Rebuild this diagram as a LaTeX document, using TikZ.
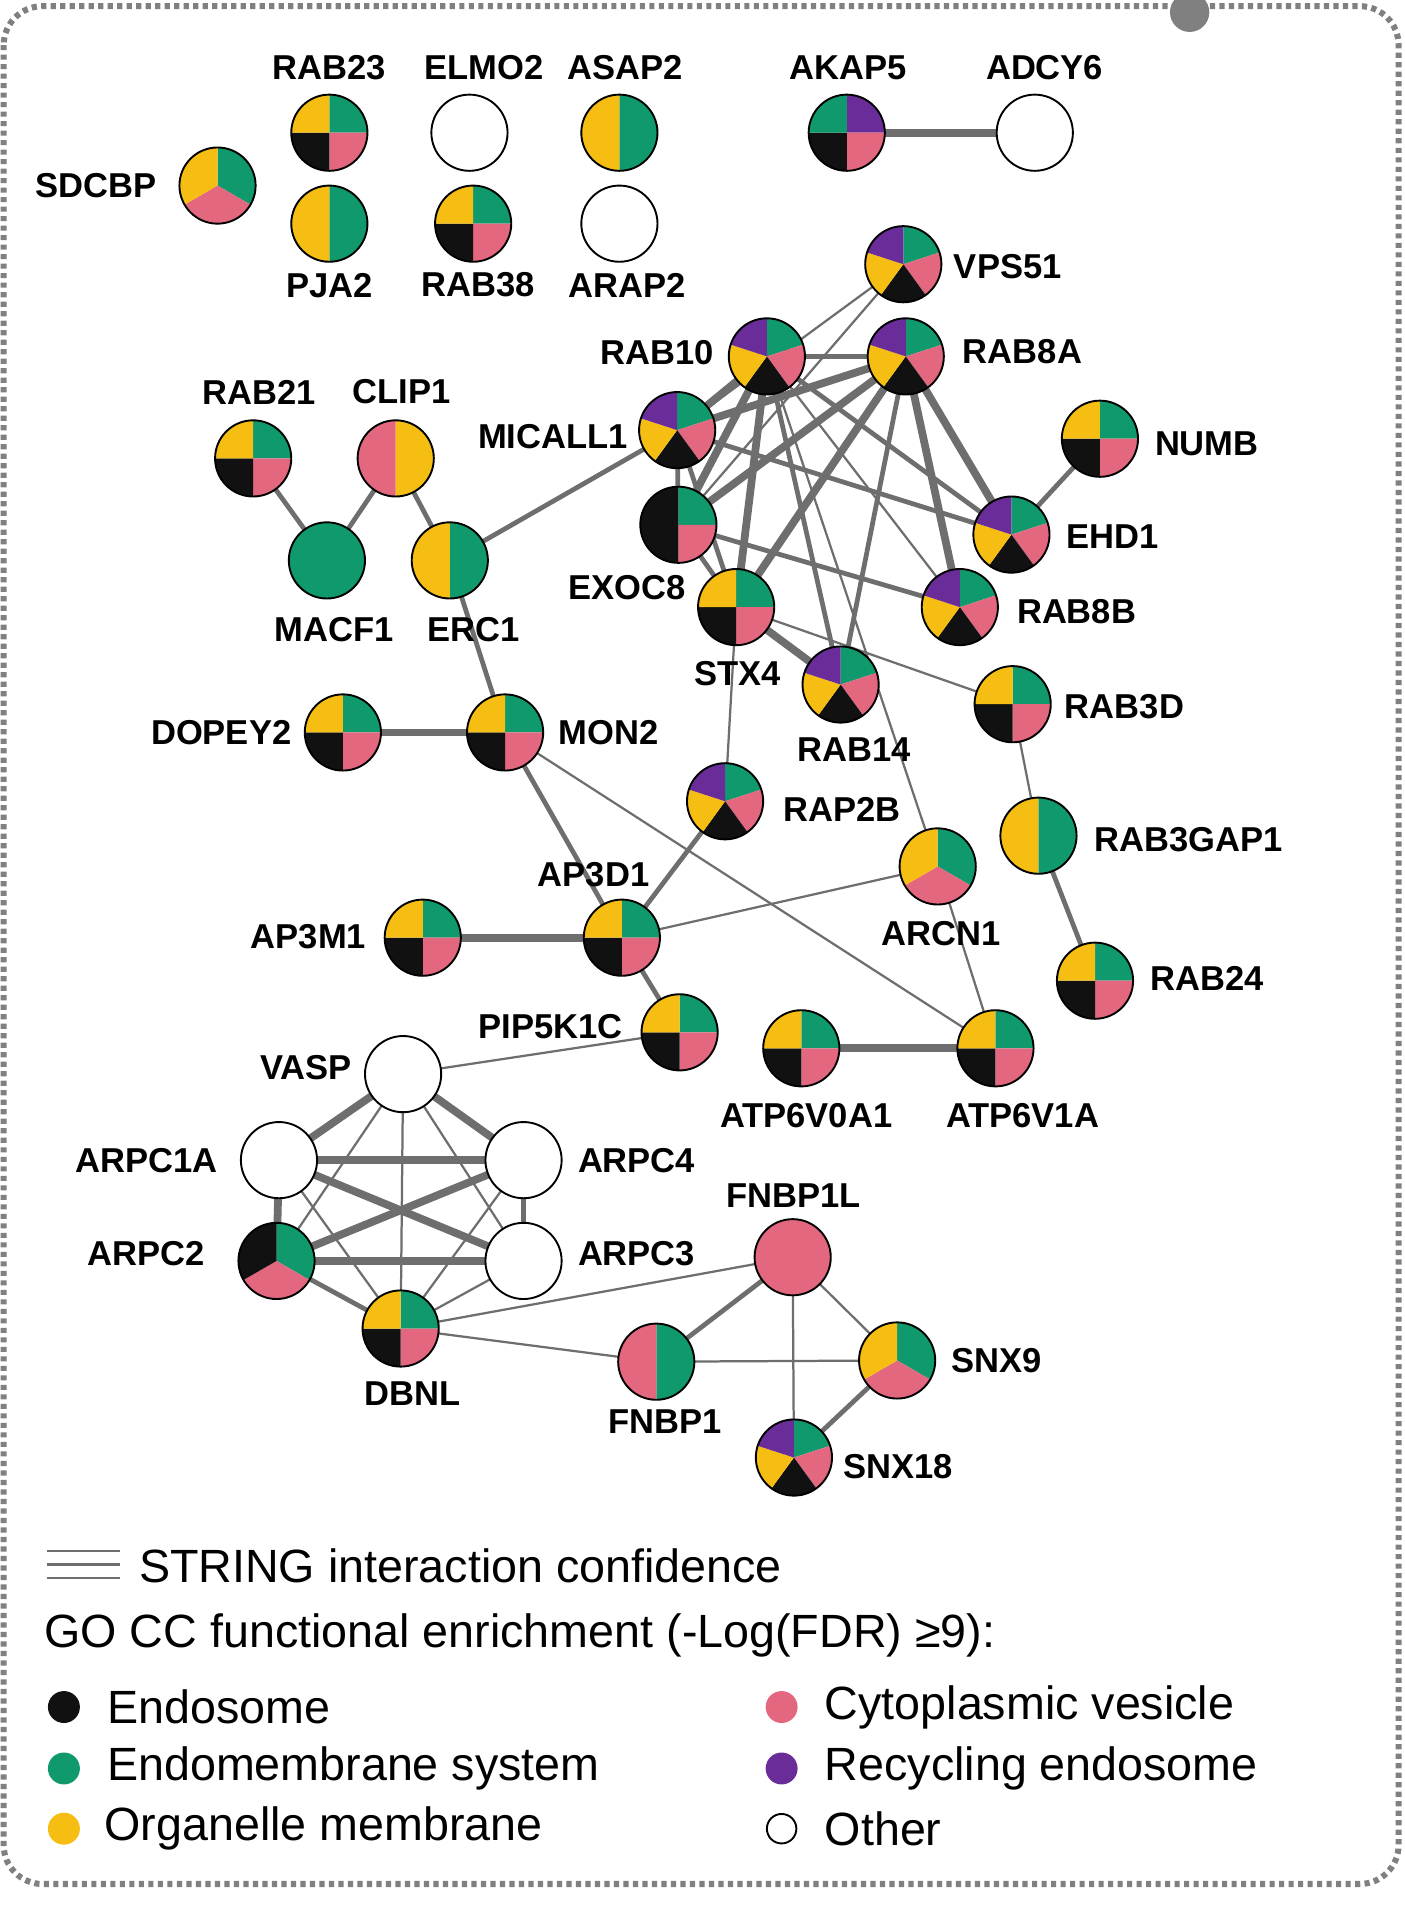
\documentclass[tikz,border=0pt]{standalone}
\usepackage{fontspec}
\setmainfont{Liberation Sans}
\usetikzlibrary{backgrounds}
\definecolor{cK}{HTML}{111111}
\definecolor{cG}{HTML}{11996E}
\definecolor{cY}{HTML}{F6BE12}
\definecolor{cP}{HTML}{E3677F}
\definecolor{cV}{HTML}{6A2C98}
\definecolor{eg}{HTML}{6E6E6E}
\newcommand\pn[5]{%
  \node[circle,minimum size=3.1cm,inner sep=0pt] (#1) at (#2,-#3) {};
  \foreach \cc [count=\ii] in {#5} {
    \fill[\cc] (#2,-#3) -- ++({90-360*(\ii-1)/#4}:31) arc[start angle={90-360*(\ii-1)/#4}, delta angle={-360/#4}, radius=31] -- cycle;}
  \draw[line width=2.2pt,black] (#2,-#3) circle[radius=31];}
\newcommand\lb[3]{\node[lbl] at (#1,-#2) {#3};}
\begin{document}
\begin{tikzpicture}[x=0.05cm,y=0.05cm,
  lbl/.style={font=\fontsize{40}{46}\selectfont\bfseries,inner sep=0pt},
  leg/.style={font=\fontsize{54}{60}\selectfont,anchor=west,inner sep=0pt},
  e1/.style={draw=eg,line width=2.6pt},
  e2/.style={draw=eg,line width=5.5pt},
  e3/.style={draw=eg,line width=9pt}]
\useasboundingbox (0,0) rectangle (1143,-1568);
\draw[gray,line width=7pt,dash pattern=on 6pt off 5pt,rounded corners=45] (3,-5) rectangle (1138,-1533);
\fill[gray] (968,-10) circle[radius=16];
% nodes
\pn{SDCBP}{177}{151}{3}{cG,cP,cY}
\pn{RAB23}{268}{108}{4}{cG,cP,cK,cY}
\pn{ELMO2}{382}{108}{1}{white}
\pn{ASAP2}{504}{108}{2}{cG,cY}
\pn{PJA2}{268}{182}{2}{cG,cY}
\pn{RAB38}{385}{182}{4}{cG,cP,cK,cY}
\pn{ARAP2}{504}{182}{1}{white}
\pn{AKAP5}{689}{108}{4}{cV,cP,cK,cG}
\pn{ADCY6}{842}{108}{1}{white}
\pn{VPS51}{735}{215}{5}{cG,cP,cK,cY,cV}
\pn{RAB10}{624}{290}{5}{cG,cP,cK,cY,cV}
\pn{RAB8A}{737}{290}{5}{cG,cP,cK,cY,cV}
\pn{RAB21}{206}{373}{4}{cG,cP,cK,cY}
\pn{CLIP1}{322}{373}{2}{cY,cP}
\pn{MICALL1}{551}{350}{5}{cG,cP,cK,cY,cV}
\pn{NUMB}{895}{357}{4}{cG,cP,cK,cY}
\pn{EXOC8}{552}{427}{4}{cG,cP,cK,cK}
\pn{EHD1}{823}{435}{5}{cG,cP,cK,cY,cV}
\pn{MACF1}{266}{456}{1}{cG}
\pn{ERC1}{366}{456}{2}{cG,cY}
\pn{STX4}{599}{494}{4}{cG,cP,cK,cY}
\pn{RAB8B}{781}{494}{5}{cG,cP,cK,cY,cV}
\pn{RAB14}{684}{557}{5}{cG,cP,cK,cY,cV}
\pn{RAB3D}{824}{573}{4}{cG,cP,cK,cY}
\pn{DOPEY2}{279}{596}{4}{cG,cP,cK,cY}
\pn{MON2}{411}{596}{4}{cG,cP,cK,cY}
\pn{RAP2B}{590}{652}{5}{cG,cP,cK,cY,cV}
\pn{RAB3GAP1}{845}{680}{2}{cG,cY}
\pn{ARCN1}{763}{705}{3}{cG,cP,cY}
\pn{AP3D1}{506}{763}{4}{cG,cP,cK,cY}
\pn{AP3M1}{344}{763}{4}{cG,cP,cK,cY}
\pn{RAB24}{891}{798}{4}{cG,cP,cK,cY}
\pn{PIP5K1C}{553}{840}{4}{cG,cP,cK,cY}
\pn{ATP6V0A1}{652}{853}{4}{cG,cP,cK,cY}
\pn{ATP6V1A}{810}{853}{4}{cG,cP,cK,cY}
\pn{VASP}{328}{874}{1}{white}
\pn{ARPC1A}{227}{944}{1}{white}
\pn{ARPC4}{426}{944}{1}{white}
\pn{FNBP1L}{645}{1023}{1}{cP}
\pn{ARPC2}{225}{1026}{3}{cG,cP,cK}
\pn{ARPC3}{426}{1026}{1}{white}
\pn{DBNL}{326}{1081}{4}{cG,cP,cK,cY}
\pn{FNBP1}{534}{1108}{2}{cG,cP}
\pn{SNX9}{730}{1107}{3}{cG,cP,cY}
\pn{SNX18}{646}{1186}{5}{cG,cP,cK,cY,cV}
% edges
\begin{scope}[on background layer]
\path[e3] (AKAP5) -- (ADCY6);
\path[e2] (RAB21) -- (MACF1); \path[e2] (CLIP1) -- (MACF1);
\path[e2] (CLIP1) -- (ERC1); \path[e2] (ERC1) -- (MICALL1); \path[e2] (ERC1) -- (MON2);
\path[e3] (DOPEY2) -- (MON2); \path[e2] (MON2) -- (AP3D1); \path[e1] (MON2) -- (ATP6V1A);
\path[e3] (AP3M1) -- (AP3D1); \path[e2] (AP3D1) -- (RAP2B); \path[e1] (AP3D1) -- (ARCN1);
\path[e2] (AP3D1) -- (PIP5K1C); \path[e1] (ARCN1) -- (ATP6V1A); \path[e3] (ATP6V0A1) -- (ATP6V1A);
\path[e1] (RAB3D) -- (RAB3GAP1); \path[e2] (RAB3GAP1) -- (RAB24);
\path[e1] (RAP2B) -- (STX4); \path[e2] (NUMB) -- (EHD1);
\path[e2] (RAB10) -- (RAB8A); \path[e3] (RAB10) -- (MICALL1); \path[e3] (RAB10) -- (EXOC8);
\path[e3] (RAB10) -- (STX4); \path[e2] (RAB10) -- (RAB14); \path[e2] (RAB10) -- (EHD1);
\path[e1] (RAB10) -- (RAB8B); \path[e1] (RAB10) -- (ARCN1);
\path[e3] (RAB8A) -- (MICALL1); \path[e3] (RAB8A) -- (EXOC8); \path[e3] (RAB8A) -- (STX4);
\path[e2] (RAB8A) -- (RAB14); \path[e3] (RAB8A) -- (EHD1); \path[e3] (RAB8A) -- (RAB8B);
\path[e1] (VPS51) -- (MICALL1); \path[e1] (VPS51) -- (EXOC8);
\path[e2] (MICALL1) -- (EXOC8); \path[e2] (MICALL1) -- (STX4); \path[e2] (MICALL1) -- (EHD1);
\path[e2] (EXOC8) -- (STX4); \path[e2] (EXOC8) -- (RAB8B); \path[e3] (STX4) -- (RAB14);
\path[e1] (STX4) -- (RAB3D);
\path[e3] (VASP) -- (ARPC1A); \path[e3] (VASP) -- (ARPC4); \path[e1] (VASP) -- (ARPC2);
\path[e1] (VASP) -- (ARPC3); \path[e1] (VASP) -- (DBNL); \path[e1] (VASP) -- (PIP5K1C);
\path[e3] (ARPC1A) -- (ARPC4); \path[e3] (ARPC1A) -- (ARPC3); \path[e3] (ARPC1A) -- (ARPC2);
\path[e1] (ARPC1A) -- (DBNL); \path[e3] (ARPC2) -- (ARPC4); \path[e3] (ARPC2) -- (ARPC3);
\path[e2] (ARPC2) -- (DBNL); \path[e2] (ARPC4) -- (ARPC3); \path[e1] (ARPC4) -- (DBNL);
\path[e1] (ARPC3) -- (DBNL); \path[e1] (DBNL) -- (FNBP1L); \path[e1] (DBNL) -- (FNBP1);
\path[e2] (FNBP1) -- (FNBP1L); \path[e1] (FNBP1) -- (SNX9); \path[e1] (FNBP1L) -- (SNX9);
\path[e1] (FNBP1L) -- (SNX18); \path[e2] (SNX9) -- (SNX18);
\end{scope}
% labels
\lb{78}{151}{SDCBP}\lb{268}{55}{RAB23}\lb{394}{55}{ELMO2}\lb{509}{55}{ASAP2}
\lb{268}{232}{PJA2}\lb{389}{232}{RAB38}\lb{510}{232}{ARAP2}
\lb{690}{55}{AKAP5}\lb{850}{55}{ADCY6}\lb{820}{217}{VPS51}
\lb{535}{287}{RAB10}\lb{832}{286}{RAB8A}\lb{211}{319}{RAB21}\lb{327}{319}{CLIP1}
\lb{450}{355}{MICALL1}\lb{982}{361}{NUMB}\lb{510}{478}{EXOC8}\lb{905}{437}{EHD1}
\lb{272}{512}{MACF1}\lb{385}{512}{ERC1}\lb{600}{548}{STX4}\lb{876}{498}{RAB8B}
\lb{695}{610}{RAB14}\lb{915}{575}{RAB3D}\lb{180}{596}{DOPEY2}\lb{495}{596}{MON2}
\lb{685}{659}{RAP2B}\lb{967}{683}{RAB3GAP1}\lb{766}{760}{ARCN1}\lb{483}{712}{AP3D1}
\lb{251}{762}{AP3M1}\lb{982}{796}{RAB24}\lb{448}{835}{PIP5K1C}
\lb{656}{908}{ATP6V0A1}\lb{832}{908}{ATP6V1A}\lb{249}{869}{VASP}
\lb{119}{944}{ARPC1A}\lb{518}{944}{ARPC4}\lb{646}{973}{FNBP1L}
\lb{119}{1020}{ARPC2}\lb{518}{1020}{ARPC3}\lb{336}{1134}{DBNL}
\lb{541}{1157}{FNBP1}\lb{811}{1107}{SNX9}\lb{731}{1193}{SNX18}
% legend
\draw[eg,line width=3pt] (38,-1262) -- (98,-1262) (38,-1273) -- (98,-1273) (38,-1284) -- (98,-1284);
\node[leg] (l0) at (113,-1274) {STRING interaction confidence};
\node[leg] (l1) at (36,-1331) {GO CC functional enrichment (-Log(FDR) ≥9):};
\fill[cK] (52,-1389) circle[radius=13]; \node[leg] (l2) at (87,-1389) {Endosome};
\fill[cG] (52,-1439) circle[radius=13]; \node[leg] (l3) at (87,-1439) {Endomembrane system};
\fill[cY] (52,-1488) circle[radius=13]; \node[leg] (l4) at (85,-1488) {Organelle membrane};
\fill[cP] (636,-1389) circle[radius=13]; \node[leg] (l5) at (671,-1389) {Cytoplasmic vesicle};
\fill[cV] (636,-1439) circle[radius=13]; \node[leg] (l6) at (671,-1439) {Recycling endosome};
\draw[black,line width=2.2pt] (636,-1488) circle[radius=12]; \node[leg] (l7) at (671,-1488) {Other};
\end{tikzpicture}
\end{document}
